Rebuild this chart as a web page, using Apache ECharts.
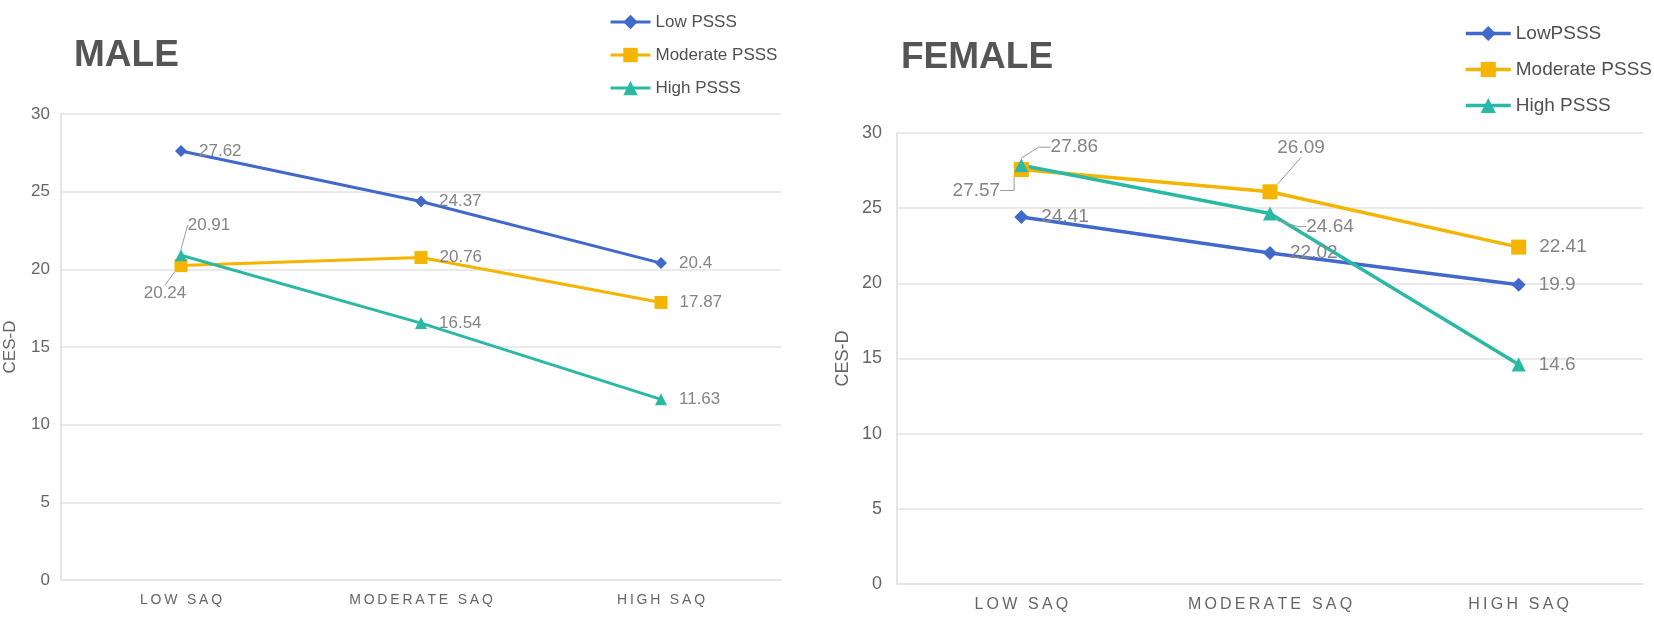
<!DOCTYPE html>
<html>
<head>
<meta charset="utf-8">
<script src="https://cdn.jsdelivr.net/npm/echarts@6/dist/echarts.min.js"></script>
<style>
  html, body { margin: 0; padding: 0; background: #fff; }
  #chart { width: 1654px; height: 618px; }
</style>
</head>
<body>
<div id="chart"></div>
<script>
// categories and values
const categories = ['LOW SAQ', 'MODERATE SAQ', 'HIGH SAQ'];
const yMin = 0, yMax = 30, yStep = 5;

const maleNames = ['Low PSSS', 'Moderate PSSS', 'High PSSS'];
const maleLow = [27.62, 24.37, 20.4];
const maleModerate = [20.24, 20.76, 17.87];
const maleHigh = [20.91, 16.54, 11.63];

const femaleNames = ['LowPSSS', 'Moderate PSSS', 'High PSSS'];
const femaleLow = [24.41, 22.02, 19.9];
const femaleModerate = [27.57, 26.09, 22.41];
const femaleHigh = [27.86, 24.64, 14.6];

const FONT = '"Liberation Sans", Arial, Helvetica, sans-serif';
const BLUE = '#4169cc', YELLOW = '#f4b400', TEAL = '#2bb9a6';

// labels that sit away from their point, with a leader line (offsets in px)
const movedLabels = {
  male: [{}, { 0: { dx: -16, dy: 28, len: 0 } }, { 0: { dx: 28, dy: -30, len: 0 } }],
  female: [{}, { 0: { dx: -45, dy: 21, len: 14 }, 1: { dx: 31, dy: -44, len: 0 } },
           { 0: { dx: 53, dy: -18, len: 12 }, 1: { dx: 60, dy: 13, len: 8 } }]
};

const spaced = v => v.split('').join('\u2009');

function makeSeries(name, values, axisIdx, color, symbol, size, lineWidth, fontSize, distance, moved) {
  return {
    name: name,
    type: 'line',
    xAxisIndex: axisIdx,
    yAxisIndex: axisIdx,
    data: values.map((v, i) => {
      const m = moved[i];
      if (!m) return v;
      return {
        value: v,
        label: { position: 'inside' },
        labelLine: { show: true, length2: m.len }
      };
    }),
    symbol: symbol,
    symbolSize: size,
    lineStyle: { color: color, width: lineWidth },
    itemStyle: { color: color },
    label: {
      show: true, position: 'right', distance: distance,
      color: '#858585', fontSize: fontSize, fontFamily: FONT,
      textBorderColor: 'transparent', textBorderWidth: 0
    },
    labelLine: { show: false, lineStyle: { color: '#9a9a9a', width: 1 } },
    labelLayout: p => {
      const m = moved[p.dataIndex];
      return m ? { dx: m.dx, dy: m.dy } : {};
    },
    emphasis: { disabled: true },
    animation: false
  };
}

function makeYAxis(idx, fontSize, margin, nameGap) {
  return {
    gridIndex: idx, type: 'value', min: yMin, max: yMax, interval: yStep,
    name: 'CES-D', nameLocation: 'middle', nameRotate: 90, nameGap: nameGap,
    nameTextStyle: { fontSize: fontSize, color: '#666', fontFamily: FONT },
    axisLine: { show: true, lineStyle: { color: '#dcdcdc', width: 1.5 } },
    axisTick: { show: false },
    axisLabel: { fontSize: fontSize, color: '#666', margin: margin, fontFamily: FONT },
    splitLine: { lineStyle: { color: '#e3e3e3', width: 1.5 } }
  };
}

function makeXAxis(idx, fontSize, margin) {
  return {
    gridIndex: idx, type: 'category', data: categories, boundaryGap: true,
    axisLine: { show: true, lineStyle: { color: '#e3e3e3', width: 1.5 } },
    axisTick: { show: false },
    axisLabel: { fontSize: fontSize, color: '#666', margin: margin, fontFamily: FONT, formatter: spaced }
  };
}

function makeLegend(names, left, top, itemWidth, itemHeight, gap, fontSize, lineHeight, lineWidth) {
  return {
    data: names, orient: 'vertical', left: left, top: top, padding: 0,
    itemWidth: itemWidth, itemHeight: itemHeight, itemGap: gap, selectedMode: false,
    lineStyle: { width: lineWidth },
    textStyle: { fontSize: fontSize, color: '#505050', lineHeight: lineHeight, fontFamily: FONT }
  };
}

const chart = echarts.init(document.getElementById('chart'), null, { renderer: 'canvas' });

chart.setOption({
  backgroundColor: '#fff',
  animation: false,
  textStyle: { fontFamily: FONT },
  title: [
    { text: 'MALE', left: 74, top: 37, padding: 0,
      textStyle: { fontSize: 37, fontWeight: 'bold', color: '#555', fontFamily: FONT } },
    { text: 'FEMALE', left: 901, top: 39, padding: 0,
      textStyle: { fontSize: 37, fontWeight: 'bold', color: '#555', fontFamily: FONT } }
  ],
  legend: [
    makeLegend(maleNames, 609, 12, 40, 18, 13, 17, 20, 3),
    makeLegend(femaleNames, 1464, 23, 45, 19, 15, 19, 21, 3.5)
  ],
  grid: [
    { left: 61, top: 114, width: 720, height: 466 },
    { left: 897, top: 133, width: 746, height: 451 }
  ],
  xAxis: [makeXAxis(0, 14, 13), makeXAxis(1, 16, 13)],
  yAxis: [makeYAxis(0, 17, 11, 42), makeYAxis(1, 18, 15, 45)],
  series: [
    makeSeries(maleNames[0], maleLow, 0, BLUE, 'diamond', 12, 3, 17, 12, movedLabels.male[0]),
    makeSeries(maleNames[1], maleModerate, 0, YELLOW, 'rect', 13, 3, 17, 12, movedLabels.male[1]),
    makeSeries(maleNames[2], maleHigh, 0, TEAL, 'triangle', 12, 3, 17, 12, movedLabels.male[2]),
    makeSeries(femaleNames[0], femaleLow, 1, BLUE, 'diamond', 14, 3.5, 19, 13, movedLabels.female[0]),
    makeSeries(femaleNames[1], femaleModerate, 1, YELLOW, 'rect', 15, 3.5, 19, 13, movedLabels.female[1]),
    makeSeries(femaleNames[2], femaleHigh, 1, TEAL, 'triangle', 14, 3.5, 19, 13, movedLabels.female[2])
  ]
});
</script>
</body>
</html>
